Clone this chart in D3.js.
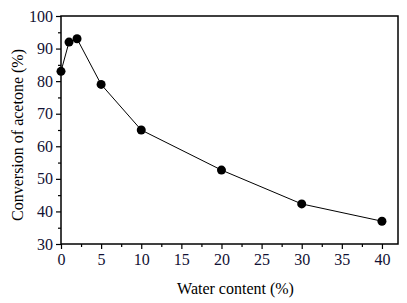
<!DOCTYPE html>
<html lang="en">
<head>
    <meta charset="UTF-8">
    <title>Conversion of acetone vs water content</title>
    <script src="https://d3js.org/d3.v7.min.js"></script>
    <style>
        body { margin: 0; background: #fff; }
        text { font-family: "Liberation Serif", "Times New Roman", serif; }
    </style>
</head>
<body>
    <div id="my_dataviz"></div>
    <script>
        // data
        const waterContent = [0, 1, 2, 5, 10, 20, 30, 40];
        const conversion = [83, 92, 93, 79, 65, 52.7, 42.3, 37];
        const xTicks = [0, 5, 10, 15, 20, 25, 30, 35, 40];
        const yTicks = [30, 40, 50, 60, 70, 80, 90, 100];

        const margin = { top: 16, right: 9, bottom: 59, left: 61 },
            width = 407 - margin.left - margin.right,
            height = 303 - margin.top - margin.bottom;

        const svg = d3.select("#my_dataviz")
            .append("svg")
            .attr("width", 407)
            .attr("height", 303)
            .append("g")
            .attr("transform", `translate(${margin.left},${margin.top})`);

        const x = d3.scaleLinear().domain([0, 42]).range([0, width]);
        const y = d3.scaleLinear().domain([30, 100]).range([height, 0]);

        // minor ticks
        const xMinor = d3.range(2.5, 42, 5);
        const yMinor = d3.range(35, 100, 10);

        svg.append("g")
            .attr("transform", `translate(0,${height})`)
            .call(d3.axisBottom(x).tickValues(xMinor).tickSize(3).tickFormat(""))
            .call(g => g.select(".domain").remove());
        svg.append("g")
            .call(d3.axisLeft(y).tickValues(yMinor).tickSize(3).tickFormat(""))
            .call(g => g.select(".domain").remove());

        const xAxis = svg.append("g")
            .attr("transform", `translate(0,${height})`)
            .call(d3.axisBottom(x).tickValues(xTicks).tickSize(5).tickPadding(5));
        const yAxis = svg.append("g")
            .call(d3.axisLeft(y).tickValues(yTicks).tickSize(5).tickPadding(3));

        [xAxis, yAxis].forEach(a => {
            a.selectAll("text")
                .style("font-family", "'Liberation Serif', serif")
                .style("font-size", "16px")
                .attr("fill", "#111133");
            a.select(".domain").remove();
        });
        svg.selectAll(".tick line").attr("stroke", "#000").attr("stroke-width", 1.2);

        // frame
        svg.append("rect")
            .attr("x", 0).attr("y", 0)
            .attr("width", width).attr("height", height)
            .attr("fill", "none")
            .attr("stroke", "#000")
            .attr("stroke-width", 1.5);

        // line and points
        const pts = waterContent.map((w, i) => [w, conversion[i]]);
        svg.append("path")
            .datum(pts)
            .attr("fill", "none")
            .attr("stroke", "#000")
            .attr("stroke-width", 1)
            .attr("d", d3.line().x(d => x(d[0])).y(d => y(d[1])));

        svg.selectAll("circle.pt")
            .data(pts)
            .enter()
            .append("circle")
            .attr("class", "pt")
            .attr("cx", d => x(d[0]))
            .attr("cy", d => y(d[1]))
            .attr("r", 4.5)
            .style("fill", "#000");

        // axis titles
        svg.append("text")
            .attr("x", width / 2 + 6)
            .attr("y", height + 50)
            .attr("text-anchor", "middle")
            .style("font-size", "16px")
            .text("Water content (%)");

        svg.append("text")
            .attr("transform", `translate(${-38},${height / 2 + 5}) rotate(-90)`)
            .attr("text-anchor", "middle")
            .style("font-size", "16px")
            .text("Conversion of acetone (%)");
    </script>
</body>
</html>
